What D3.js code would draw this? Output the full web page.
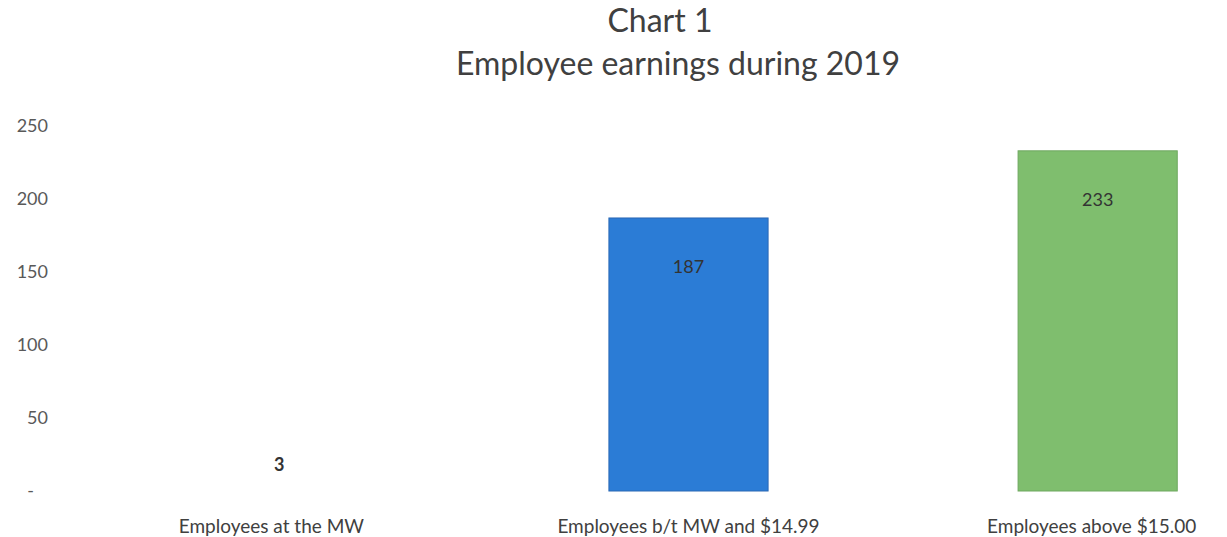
<!DOCTYPE html>
<html>
<head>
<meta charset="utf-8">
<script src="https://cdn.jsdelivr.net/npm/d3@7"></script>
<style>
  html, body { margin: 0; padding: 0; background: #ffffff; }
  svg { display: block; }
</style>
</head>
<body>
<svg id="chart" width="1227" height="537"></svg>
<script>
const categories = ["Employees at the MW", "Employees b/t MW and $14.99", "Employees above $15.00"];
const values = [3, 187, 233];
const barColors = ["#ffffff", "#2b7cd6", "#7fbe6e"];
const barStrokes = ["#ffffff", "#2a68b4", "#6ea85f"];
const yTicks = [0, 50, 100, 150, 200, 250];
const yTickLabels = ["-", "50", "100", "150", "200", "250"];
const titleLines = ["Chart 1", "Employee earnings during 2019"];

const svg = d3.select("#chart");
const font = "Lato, 'Open Sans', sans-serif";

const x = d3.scaleBand()
  .domain(categories)
  .range([77, 1300])
  .paddingInner(0.611)
  .paddingOuter(0.3);

const y = d3.scaleLinear()
  .domain([0, 250])
  .range([491, 126]);

// Title
svg.append("g").selectAll("text")
  .data(titleLines)
  .join("text")
  .attr("x", (d, i) => i === 0 ? 660 : 678)
  .attr("y", (d, i) => 32 + i * 43)
  .attr("text-anchor", "middle")
  .attr("font-family", font)
  .attr("font-size", 32)
  .attr("fill", "#404040")
  .text(d => d);

// Y axis labels
const yAxis = d3.axisLeft(y)
  .tickValues(yTicks)
  .tickSize(0)
  .tickPadding(0)
  .tickFormat((d, i) => yTickLabels[i]);

const yg = svg.append("g")
  .attr("transform", "translate(48,0)")
  .call(yAxis);
yg.select(".domain").remove();
yg.selectAll("text")
  .attr("font-family", font)
  .attr("font-size", 18)
  .attr("fill", "#595959")
  .attr("dx", d => d === 0 ? -14 : 0)
  .attr("dy", "0.32em");

// Bars
svg.append("g").selectAll("rect")
  .data(values)
  .join("rect")
  .attr("x", (d, i) => x(categories[i]))
  .attr("y", d => y(d))
  .attr("width", x.bandwidth())
  .attr("height", d => y(0) - y(d))
  .attr("fill", (d, i) => barColors[i])
  .attr("stroke", (d, i) => barStrokes[i])
  .attr("stroke-width", 1);

// Value labels
svg.append("g").selectAll("text")
  .data(values)
  .join("text")
  .attr("x", (d, i) => x(categories[i]) + x.bandwidth() / 2)
  .attr("y", d => (y(0) - y(d)) > 60 ? y(d) + 55 : y(d) - 16)
  .attr("text-anchor", "middle")
  .attr("font-family", font)
  .attr("font-size", 18)
  .attr("font-weight", d => (y(0) - y(d)) > 60 ? "normal" : "bold")
  .attr("fill", "#333333")
  .text(d => d);

// X axis labels
const xAxis = d3.axisBottom(x).tickSize(0).tickPadding(0);
const xg = svg.append("g")
  .attr("transform", "translate(0,519)")
  .call(xAxis);
xg.select(".domain").remove();
xg.selectAll("text")
  .attr("font-family", font)
  .attr("font-size", 19)
  .attr("fill", "#404040")
  .attr("dx", (d, i) => i === 0 ? -8 : (i === 2 ? -6 : 0));
</script>
</body>
</html>
